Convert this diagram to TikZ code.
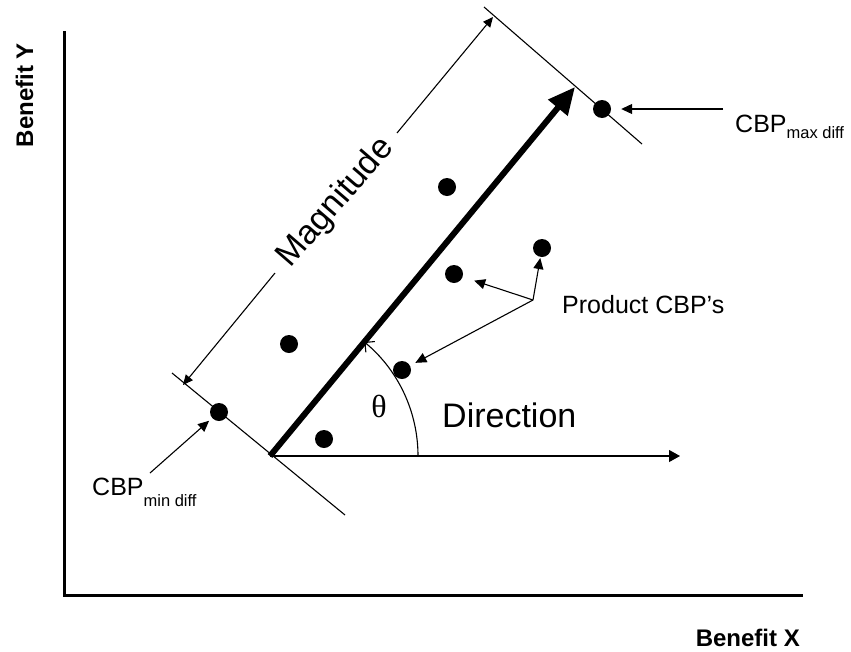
\documentclass[tikz,border=0pt]{standalone}
\usepackage{fontspec}
\setmainfont{Liberation Sans}
\newfontfamily\symfont{Liberation Serif}
\usetikzlibrary{arrows.meta}
\newcommand{\fsz}[1]{\fontsize{#1}{#1}\selectfont}
\begin{document}
\begin{tikzpicture}[x=1pt,y=-1pt,
  thin line/.style={line width=1.1pt},
  dot/.style={circle,fill=black,inner sep=0pt,minimum size=18pt},
  ptr/.style={thin line,-{Triangle[length=11pt,width=10pt]}},
  dimtip/.style={thin line,-{Triangle[length=10pt,width=9pt]}},
  axislabel/.style={font=\fsz{24}\bfseries,inner sep=0pt},
  biglabel/.style={font=\fsz{34},inner sep=0pt},
  smalllabel/.style={font=\fsz{25},inner sep=0pt}]
\useasboundingbox (0,0) rectangle (851,651);

% axes
\draw[line width=3.3pt] (64.5,31) -- (64.5,595.5) -- (803,595.5);
\node[axislabel,rotate=90,anchor=base] (ylab) at (33,95) {Benefit Y};
\node[axislabel,anchor=base east] (xlab) at (800,646) {Benefit X};

% key points of the construction
\coordinate (O) at (270,456);
\coordinate (T) at (575,87);
\coordinate (H) at (680,456);

% perpendicular limit lines
\coordinate (L1) at (172,373);
\coordinate (L2) at (345,515);
\coordinate (U1) at (484,7);
\coordinate (U2) at (642,144);
\draw[thin line] (L1) -- (L2);
\draw[thin line] (U1) -- (U2);

% product points
\node[dot] (dmin) at (219,412) {};
\node[dot] (dmax) at (602,109) {};
\node[dot] (da) at (289,344) {};
\node[dot] (db) at (324,439) {};
\node[dot] (dc) at (402,370) {};
\node[dot] (dd) at (454,274) {};
\node[dot] (de) at (542,248) {};
\node[dot] (df) at (447,187) {};

% direction vector and baseline
\draw[line width=6pt,-{Triangle[length=27pt,width=24pt]}] (O) -- (T);
\draw[thin line,-{Triangle[length=11pt,width=12pt]}] (O) -- (H);

% angle arc
\coordinate (A0) at (418,456);
\draw[thin line,-{Straight Barb[length=7pt,width=14pt]}] (A0) arc[start angle=0,end angle=-50.4,radius=148];
\node[font=\symfont\fsz{32},inner sep=0pt] (theta) at (379,406) {θ};
\node[biglabel,anchor=base west] (dir) at (442,427) {Direction};

% magnitude dimension
\coordinate (M1) at (275,273);
\coordinate (M2) at (397,133);
\coordinate (MA) at (183,385);
\coordinate (MB) at (493,17);
\draw[dimtip] (M1) -- (MA);
\draw[dimtip] (M2) -- (MB);
\node[biglabel,rotate=49.2] (mag) at (336,203) {Magnitude};

% product labels
\coordinate (P) at (533,300);
\node[smalllabel,anchor=base west] (plab) at (562,313) {Product CBP’s};
\draw[ptr,shorten >=12pt] (P) -- (dd);
\draw[ptr,shorten >=1pt] (P) -- (de);
\draw[ptr,shorten >=6pt] (P) -- (dc);

% extreme labels
\coordinate (Pmax) at (723,109);
\node[smalllabel,anchor=base west] (maxlab) at (735,132) {CBP\raisebox{-6pt}{\fsz{16.5}max diff}};
\draw[ptr,shorten >=10pt] (Pmax) -- (dmax);
\coordinate (Pmin) at (150,473);
\node[smalllabel,anchor=base west] (minlab) at (92,495) {CBP\raisebox{-11pt}{\fsz{16.5}min diff}};
\draw[ptr,shorten >=4pt] (Pmin) -- (dmin);
\end{tikzpicture}
\end{document}
